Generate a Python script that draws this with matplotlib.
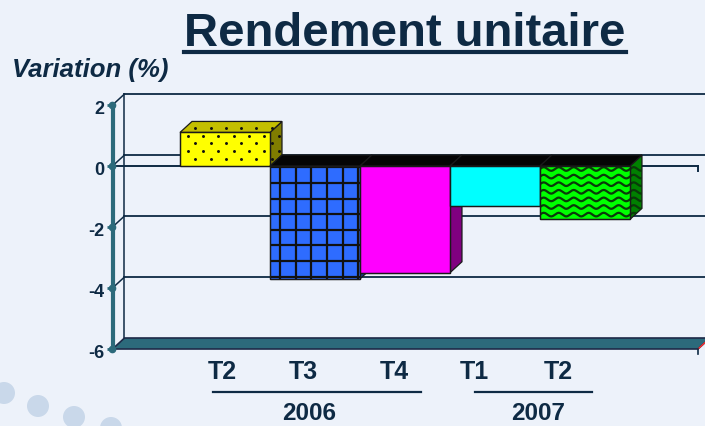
import numpy as np
import matplotlib
matplotlib.use("Agg")
import matplotlib.pyplot as plt
import matplotlib.transforms as mtrans
from matplotlib.patches import Polygon, Circle

plt.rcParams["font.family"] = ["Liberation Sans", "DejaVu Sans"]

# data
quarters = ["T2", "T3", "T4", "T1", "T2"]
years = ["2006", "2007"]
variation = [1.1, -3.7, -3.5, -1.3, -1.75]
y_ticks = [2, 0, -2, -4, -6]

# styling per bar
front_colors = ["#ffff00", "#2e6cff", "#ff00ff", "#00ffff", "#00ff00"]
top_colors = ["#c4bf00", "#050505", "#050505", "#050505", "#050505"]
side_colors = ["#807d00", "#1a3c99", "#800080", "#008080", "#008000"]
textures = ["dots", "grid", None, None, "waves"]

# label positions in bar units (the original labels drift left of the bars)
quarter_pos = [-0.03, 0.87, 1.88, 2.77, 3.70]
year_pos = [0.93, 3.48]
year_spans = [(-0.13, 2.18), (2.78, 4.08)]

NAVY = "#0e2a44"
TEAL = "#2c6a7b"
BG = "#edf2fa"
EDGE = "#1a1a1a"

fig = plt.figure(figsize=(7.05, 4.26), dpi=100, facecolor=BG)

# background bubbles (pixel space)
bg = fig.add_axes([0, 0, 1, 1])
bg.set_xlim(0, 705)
bg.set_ylim(426, 0)
bg.axis("off")
for cx, cy in [(4, 393), (38, 406), (74, 417), (111, 428)]:
	bg.add_patch(Circle((cx, cy), 11, color="#c9d8ea", lw=0))

ax = fig.add_axes([112.5 / 705, 1 - 349 / 426, 585.5 / 705, 244 / 426])
ax.set_xlim(-1.25, 5.256)
ax.set_ylim(-6, 2)
ax.patch.set_alpha(0)
xl, xr = ax.get_xlim()

# size of one pixel in data units, and the 3-D depth offset
o = ax.transData.transform((0, 0))
px_x, px_y = ax.transData.inverted().transform(o + np.array([1.0, 1.0]))
dx, dy = 12 * px_x, 11 * px_y

# back wall
for t in y_ticks[:-1]:
	ax.plot([xl + dx, xr + dx + 0.2], [t + dy, t + dy], color=NAVY, lw=1.3, clip_on=False, zorder=1)
	ax.plot([xl, xl + dx], [t, t + dy], color=NAVY, lw=1.1, clip_on=False, zorder=1)
ax.plot([xl + dx, xl + dx], [-6 + dy, 2 + dy], color=NAVY, lw=1.1, clip_on=False, zorder=1)

# floor
floor = Polygon([(xl, -6), (xr, -6), (xr + dx, -6 + dy), (xl + dx, -6 + dy)],
				closed=True, facecolor=TEAL, edgecolor="#1e2a48", lw=1.2, clip_on=False, zorder=2)
ax.add_patch(floor)
ax.plot([xr, xr + dx], [-6, -6 + dy], color="#ff3030", lw=1, clip_on=False, zorder=2)
ax.plot([xr, xr], [-6, -6 - 5 * px_y], color=NAVY, lw=1.2, clip_on=False, zorder=2)

# front axis line at 0
ax.plot([xl, xr], [0, 0], color=NAVY, lw=1.4, clip_on=False, zorder=2)
ax.plot([xr, xr], [0, -5 * px_y], color=NAVY, lw=1.4, clip_on=False, zorder=2)


def dot_texture(faces, x0, v):
	xs, ys = [], []
	for k in range(-4, 40):
		yy = v - (3.3 + 7.7 * k) * px_y
		start = 7.7 if k % 2 == 0 else 15.3
		for j in range(8):
			xs.append(x0 + (start + 15.3 * j) * px_x)
			ys.append(yy)
	for f, z in faces:
		sc = ax.scatter(xs, ys, s=4.5, color="#111111", lw=0, zorder=z, clip_on=True)
		sc.set_clip_path(f)


def grid_texture(face, x0, v, z):
	for j in range(7):
		xx = x0 + (10 + 15.7 * j) * px_x
		ln, = ax.plot([xx, xx], [0, v], color="#111111", lw=1.6, zorder=z)
		ln.set_clip_path(face)
	for k in range(10):
		yy = -(1.5 + 15.6 * k) * px_y
		ln, = ax.plot([x0, x0 + 1], [yy, yy], color="#111111", lw=1.6, zorder=z)
		ln.set_clip_path(face)


def wave_texture(faces, x0, v):
	xp = np.linspace(0, 104, 300)
	for k in range(12):
		yy = -(3 + 7.6 * k) * px_y + 1.8 * px_y * np.sin(2 * np.pi * xp / 15)
		for f, z in faces:
			ln, = ax.plot(x0 + xp * px_x, yy, color="#0a3a0a", lw=1.6, zorder=z)
			ln.set_clip_path(f)


bars = ax.bar(range(len(variation)), variation, width=1.0, color=front_colors,
			  edgecolor=EDGE, lw=0.9)
for i, (b, v) in enumerate(zip(bars, variation)):
	x0 = b.get_x()
	x1 = x0 + b.get_width()
	zb = 3 + i
	if v >= 0:
		top = [(x0, v), (x1, v), (x1 + dx, v + dy), (x0 + dx, v + dy)]
		side = [(x1, 0), (x1, v), (x1 + dx, v + dy), (x1 + dx, dy)]
	else:
		top = [(x0, 0), (x1, 0), (x1 + dx, dy), (x0 + dx, dy)]
		side = [(x1, v), (x1, 0), (x1 + dx, dy), (x1 + dx, v + dy)]
	ps = ax.add_patch(Polygon(side, closed=True, facecolor=side_colors[i], edgecolor=EDGE,
							  lw=0.9, zorder=zb, clip_on=False))
	pt = ax.add_patch(Polygon(top, closed=True, facecolor=top_colors[i], edgecolor=EDGE,
							  lw=0.9, zorder=zb + 0.1, clip_on=False))
	b.set_zorder(zb + 0.5)
	b.set_clip_on(False)
	if textures[i] == "dots":
		dot_texture([(ps, zb + 0.05), (pt, zb + 0.15), (b, zb + 0.55)], x0, v)
	elif textures[i] == "grid":
		grid_texture(b, x0, v, zb + 0.55)
	elif textures[i] == "waves":
		wave_texture([(ps, zb + 0.05), (b, zb + 0.55)], x0, v)
	# redraw front outline above texture
	ax.add_patch(Polygon(b.get_verts(), closed=True, transform=None, fill=False,
						 edgecolor=EDGE, lw=0.9, zorder=zb + 0.6))

# y axis
for s in ["top", "right", "bottom"]:
	ax.spines[s].set_visible(False)
ax.spines["left"].set_color(TEAL)
ax.spines["left"].set_linewidth(3)
ax.set_xticks([])
ax.set_yticks(y_ticks)
ax.set_yticklabels([str(t) for t in y_ticks], fontsize=13, fontweight="bold", color=NAVY)
ax.tick_params(axis="y", length=4, width=2, color=TEAL, pad=2)
shift = mtrans.ScaledTranslation(0, -3 / 100, fig.dpi_scale_trans)
for lab in ax.get_yticklabels():
	lab.set_transform(lab.get_transform() + shift)
ax.plot([xl] * len(y_ticks), y_ticks, "o", ms=4.5, color=TEAL, clip_on=False, zorder=8)

# category labels
blend = mtrans.blended_transform_factory(ax.transData, fig.transFigure)
for q, xq in zip(quarters, quarter_pos):
	ax.text(xq, 1 - 379 / 426, q, transform=blend, ha="center", va="baseline",
			fontsize=18, fontweight="bold", color=NAVY)
for yr, xy, (a, b_) in zip(years, year_pos, year_spans):
	ax.plot([a, b_], [1 - 392 / 426] * 2, transform=blend, color=NAVY, lw=1.6, clip_on=False)
	ax.text(xy, 1 - 419.5 / 426, yr, transform=blend, ha="center", va="baseline",
			fontsize=17.5, fontweight="bold", color=NAVY)

# title with underline
title = fig.text(405 / 705, 1 - 46.5 / 426, "Rendement unitaire", ha="center", va="baseline",
				 fontsize=34, fontweight="bold", color=NAVY)
fig.canvas.draw()
bb = title.get_window_extent(fig.canvas.get_renderer())
fig.add_artist(plt.Line2D([bb.x0 / 705, bb.x1 / 705], [1 - 52 / 426] * 2,
						  color=NAVY, lw=3, transform=fig.transFigure))

fig.text(12 / 705, 1 - 77 / 426, "Variation (%)", ha="left", va="baseline",
		 fontsize=18.5, fontweight="bold", fontstyle="italic", color=NAVY)

fig.savefig("out.png", dpi=100, facecolor=BG)
